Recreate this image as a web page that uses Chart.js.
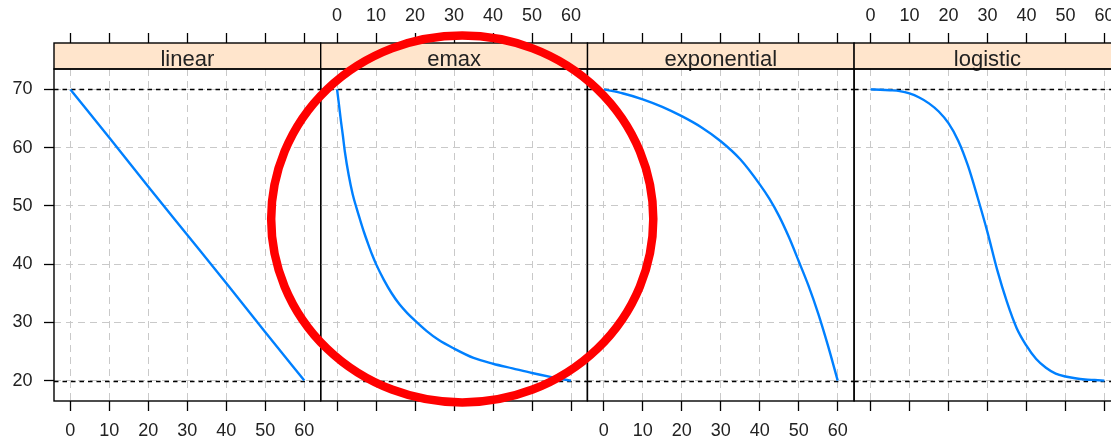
<!DOCTYPE html>
<html>
<head>
<meta charset="utf-8">
<script src="https://cdn.jsdelivr.net/npm/chart.js@4/dist/chart.umd.min.js"></script>
<style>
html,body{margin:0;padding:0;background:#fff;overflow:hidden;}
#wrap{position:relative;width:1111px;height:442px;overflow:hidden;background:#fff;}
#wrap canvas{position:absolute;left:0;top:0;}
</style>
</head>
<body>
<div id="wrap">
<canvas id="c0" width="1130" height="442"></canvas>
<canvas id="c2" width="1130" height="442"></canvas>
<canvas id="c3" width="1130" height="442"></canvas>
<canvas id="c1" width="1130" height="442"></canvas>
</div>
<script>
// ---------------- data ----------------
const panelNames = ['linear', 'emax', 'exponential', 'logistic'];

const linearDose = [0, 10, 20, 30, 40, 50, 60];
const linearResp = [70, 61.7, 53.3, 45, 36.7, 28.3, 20];

const emaxDose = [0, 0.5, 1, 1.5, 2, 3, 4, 5, 6, 7, 8, 9, 10, 12, 14, 16, 18, 20, 23, 26, 30, 35, 40, 45, 50, 55, 60];
const emaxResp = [70, 67.3, 64.5, 62.0, 59.3, 55.2, 52.0, 49.6, 47.4, 45.3, 43.4, 41.6, 40.0, 37.3, 35.0, 33.1, 31.6, 30.3, 28.5, 27.0, 25.5, 23.9, 22.9, 22.1, 21.3, 20.6, 20.0];

const expDose = [0, 5, 10, 15, 20, 25, 30, 35, 40, 42.5, 45, 47.5, 50, 52.5, 55, 57.5, 60];
const expResp = [70, 69.3, 68.3, 67.0, 65.4, 63.5, 61.1, 58.0, 53.7, 51.2, 48.2, 44.6, 40.5, 36.3, 31.5, 26.0, 20.0];

const logDose = [0, 2.5, 5, 7.5, 10, 12.5, 15, 17.5, 20, 22.5, 25, 27.5, 30, 32.5, 35, 37.5, 40, 42.5, 45, 47.5, 50, 52.5, 55, 57.5, 60];
const logResp = [70, 69.95, 69.85, 69.7, 69.3, 68.6, 67.6, 66.2, 64.2, 61.2, 56.9, 51.4, 45.5, 39.0, 33.5, 29.0, 26.0, 23.7, 22.2, 21.2, 20.7, 20.4, 20.2, 20.1, 20.0];

const xTicks = [0, 10, 20, 30, 40, 50, 60];
const yTicks = [20, 30, 40, 50, 60, 70];
const refLevels = [20, 70];
const xRange = [-4.2, 64.2];
const yRange = [16.5, 73.5];

// annotation ellipse, in emax-panel data units
const highlight = { cx: 32.1, cy: 47.75, rx: 49.0, ry: 31.5 };

const series = [
  { dose: linearDose, resp: linearResp },
  { dose: emaxDose, resp: emaxResp },
  { dose: expDose, resp: expResp },
  { dose: logDose, resp: logResp }
];

// ---------------- layout / style ----------------
const PANEL_LEFT = 54, PANEL_W = 266.7, CW = 1130, H = 442;
const PLOT_TOP = 69, PLOT_BOTTOM = 401, STRIP_TOP = 43;
const FONT = "'Liberation Sans', Arial, sans-serif";
const TXT = '#222';
const GRID = '#c9c9c9';
const LINE = '#0080ff';
Chart.defaults.font.family = FONT;

function setTicks(vals) {
  return function (s) { s.ticks = vals.map(v => ({ value: v })); };
}

function panelPlugin(i) {
  return {
    id: 'panel' + i,
    beforeDatasetsDraw(chart) {
      const { ctx, chartArea: a, scales: { y } } = chart;
      ctx.save();
      ctx.strokeStyle = '#000';
      ctx.lineWidth = 1.3;
      ctx.setLineDash([4.5, 4]);
      refLevels.forEach(v => {
        const py = Math.round(y.getPixelForValue(v)) + 0.5;
        ctx.beginPath();
        ctx.moveTo(a.left, py);
        ctx.lineTo(a.right, py);
        ctx.stroke();
      });
      ctx.restore();
    },
    afterDraw(chart) {
      const { ctx, chartArea: a } = chart;
      ctx.save();
      // strip
      ctx.fillStyle = '#ffe5cc';
      ctx.fillRect(a.left, STRIP_TOP, a.right - a.left, a.top - STRIP_TOP);
      ctx.strokeStyle = '#000';
      ctx.lineWidth = 1.4;
      ctx.setLineDash([]);
      ctx.strokeRect(a.left, STRIP_TOP, a.right - a.left, a.top - STRIP_TOP);
      ctx.fillStyle = TXT;
      ctx.font = '22px ' + FONT;
      ctx.textAlign = 'center';
      ctx.textBaseline = 'alphabetic';
      ctx.fillText(panelNames[i], (a.left + a.right) / 2, 65.5);
      // panel box
      ctx.strokeRect(a.left, a.top, a.right - a.left, a.bottom - a.top);
      // highlight ellipse
      if (i === 1) {
        const xs = chart.scales.x, ys = chart.scales.y;
        const cx = xs.getPixelForValue(highlight.cx);
        const cy = ys.getPixelForValue(highlight.cy);
        const rx = Math.abs(xs.getPixelForValue(highlight.cx + highlight.rx) - cx);
        const ry = Math.abs(ys.getPixelForValue(highlight.cy + highlight.ry) - cy);
        ctx.beginPath();
        ctx.ellipse(cx, cy, rx, ry, 0, 0, Math.PI * 2);
        ctx.strokeStyle = '#ff0000';
        ctx.lineWidth = 8.5;
        ctx.stroke();
      }
      ctx.restore();
    }
  };
}

function makeChart(i) {
  const left = PANEL_LEFT + PANEL_W * i;
  const right = left + PANEL_W;
  const labelsBottom = (i % 2 === 0);
  const s = series[i];
  const pts = s.dose.map((d, k) => ({ x: d, y: s.resp[k] }));
  const tickFont = { family: FONT, size: 18 };
  return new Chart(document.getElementById('c' + i), {
    type: 'line',
    data: {
      datasets: [{
        data: pts,
        borderColor: LINE,
        borderWidth: 2.4,
        pointRadius: 0,
        cubicInterpolationMode: 'monotone',
        fill: false
      }]
    },
    options: {
      responsive: false,
      maintainAspectRatio: false,
      animation: false,
      events: [],
      layout: { padding: { left: 0, top: 0, bottom: 0, right: CW - right } },
      plugins: { legend: { display: false }, tooltip: { enabled: false } },
      scales: {
        x: {
          type: 'linear', position: 'bottom', min: xRange[0], max: xRange[1],
          afterBuildTicks: setTicks(xTicks),
          afterFit: sc => { sc.height = H - PLOT_BOTTOM; },
          grid: { color: GRID, lineWidth: 1, drawOnChartArea: true, drawTicks: true, tickLength: 10, tickColor: '#000', tickWidth: 1.3 },
          border: { display: false, dash: [7, 5] },
          ticks: { display: labelsBottom, color: TXT, font: tickFont, padding: 9.5, maxRotation: 0, autoSkip: false }
        },
        xTop: {
          type: 'linear', position: 'top', min: xRange[0], max: xRange[1],
          afterBuildTicks: setTicks(xTicks),
          afterFit: sc => { sc.height = PLOT_TOP; },
          grid: { drawOnChartArea: false, drawTicks: true, tickLength: 36, tickColor: '#000', tickWidth: 1.3 },
          border: { display: false },
          ticks: { display: !labelsBottom, color: TXT, font: tickFont, padding: 6, maxRotation: 0, autoSkip: false }
        },
        y: {
          type: 'linear', position: 'left', min: yRange[0], max: yRange[1],
          afterBuildTicks: setTicks(yTicks),
          afterFit: sc => { sc.width = left; },
          grid: { color: GRID, lineWidth: 1, drawOnChartArea: true, drawTicks: i === 0, tickLength: 10, tickColor: '#000', tickWidth: 1.3 },
          border: { display: false, dash: [7, 5] },
          ticks: { display: i === 0, color: TXT, font: tickFont, padding: 11.5 }
        }
      }
    },
    plugins: [panelPlugin(i)]
  });
}

[0, 2, 3, 1].forEach(makeChart);
</script>
</body>
</html>
